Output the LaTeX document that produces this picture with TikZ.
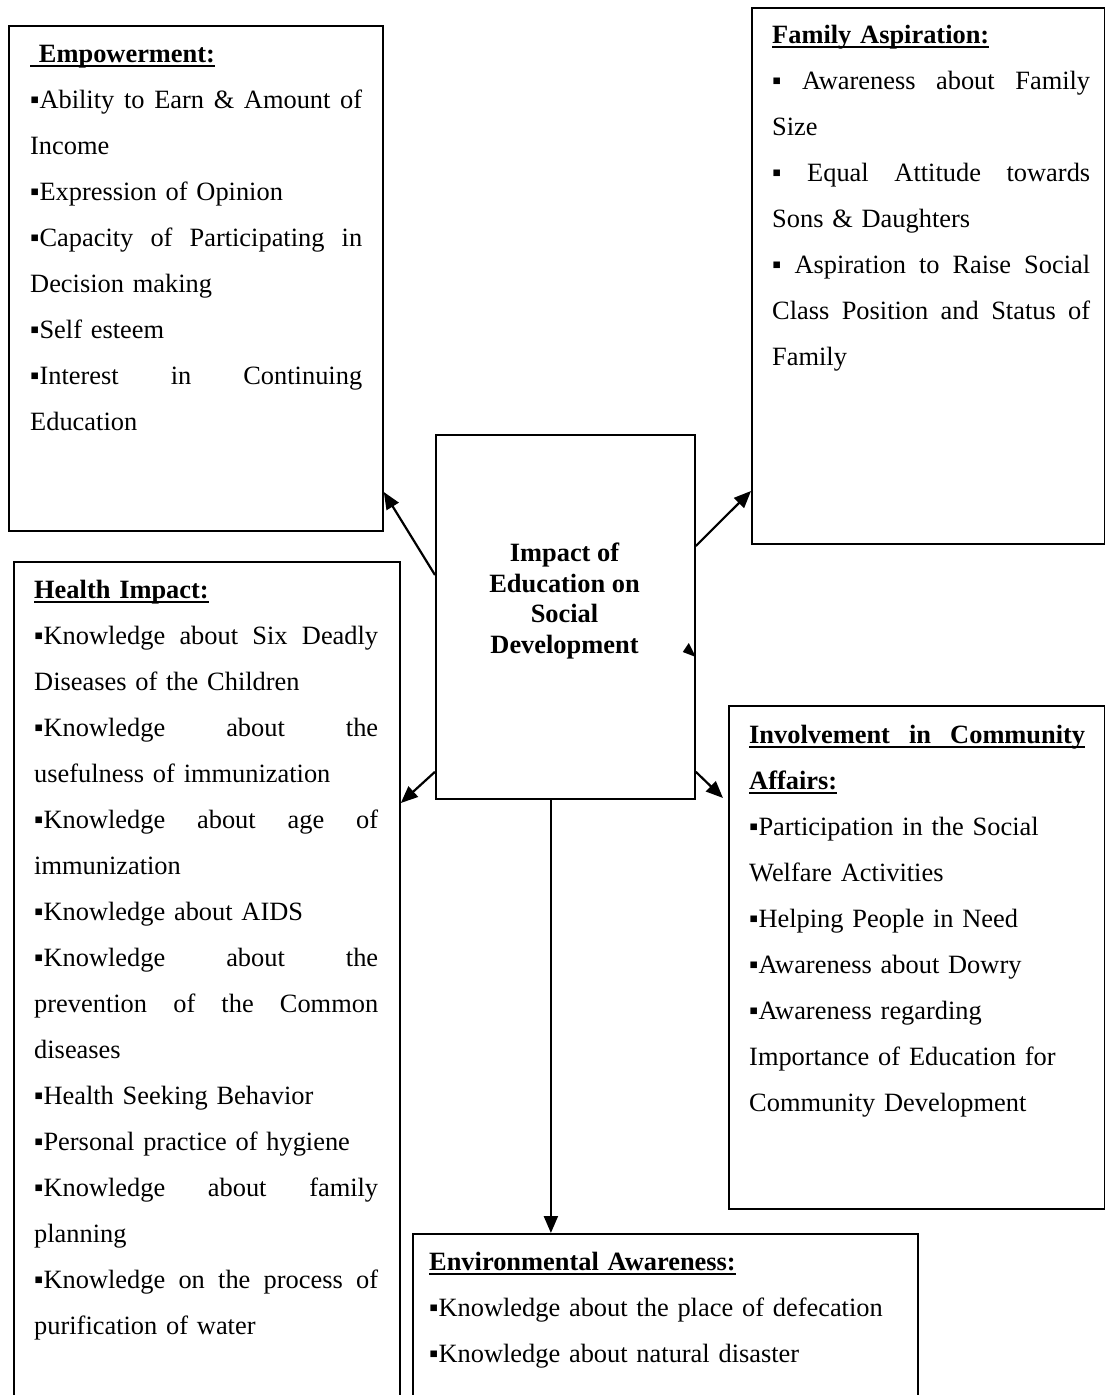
\documentclass[tikz,border=0pt]{standalone}
\usepackage{fontspec}
\setmainfont{Liberation Serif}
\usetikzlibrary{arrows.meta}

\newcommand{\hdr}[1]{\textbf{\setbox0\hbox{#1}\rlap{\rule[-5pt]{\wd0}{1.8pt}}\box0}}
\newcommand{\jl}[1]{\leavevmode\hbox to \hsize{\spaceskip=0.25em plus 1fil\relax #1}}

\begin{document}
\begin{tikzpicture}[x=1pt, y=-1pt,
        box/.style={draw, line width=1.8pt, inner sep=0pt, anchor=north west},
        txt/.style={inner sep=0pt, anchor=base west, align=left, font=\fontsize{26.4}{46}\selectfont},
        link/.style={line width=2.2pt, -{Triangle[length=17pt, width=14pt]}}]

        \useasboundingbox (0, 0) rectangle (1105, 1395);

        \draw (8, 25) node[box, minimum width=374pt, minimum height=505pt] (emp) {};
        \draw (751, 7) node[box, minimum width=353pt, minimum height=536pt] (fam) {};
        \draw (435, 434) node[box, minimum width=259pt, minimum height=364pt] (imp) {};
        \draw (13, 561) node[box, minimum width=386pt, minimum height=845pt] (hlt) {};
        \draw (728, 705) node[box, minimum width=376pt, minimum height=503pt] (inv) {};
        \draw (412, 1233) node[box, minimum width=505pt, minimum height=175pt] (env) {};

        \node[txt, text width=332pt] (emp-t) at (30, 62) {\hdr{\ Empowerment:}\\
            \jl{▪Ability to Earn \& Amount of}\\ Income\\ ▪Expression of Opinion\\
            \jl{▪Capacity of Participating in}\\ Decision making\\ ▪Self esteem\\
            \jl{▪Interest in Continuing}\\ Education};
        \node[txt, text width=318pt] (fam-t) at (772, 43) {\hdr{Family Aspiration:}\\
            \jl{▪ Awareness about Family}\\ Size\\ \jl{▪ Equal Attitude towards}\\
            Sons \& Daughters\\ \jl{▪ Aspiration to Raise Social}\\
            \jl{Class Position and Status of}\\ Family};
        \node[inner sep=0pt, anchor=base, align=center, font=\bfseries\fontsize{26.4}{30.4}\selectfont]
            (imp-t) at (564.5, 653) {Impact of\\ Education on\\ Social\\ Development};
        \node[txt, text width=344pt] (hlt-t) at (34, 598) {\hdr{Health Impact:}\\
            \jl{▪Knowledge about Six Deadly}\\ Diseases of the Children\\
            \jl{▪Knowledge about the}\\ usefulness of immunization\\
            \jl{▪Knowledge about age of}\\ immunization\\ ▪Knowledge about AIDS\\
            \jl{▪Knowledge about the}\\ \jl{prevention of the Common}\\ diseases\\
            ▪Health Seeking Behavior\\ ▪Personal practice of hygiene\\
            \jl{▪Knowledge about family}\\ planning\\
            \jl{▪Knowledge on the process of}\\ purification of water};
        \node[txt, text width=336pt] (inv-t) at (749, 743) {\hdr{\jl{Involvement in Community}}\\
            \hdr{Affairs:}\\ ▪Participation in the Social\\ Welfare Activities\\
            ▪Helping People in Need\\ ▪Awareness about Dowry\\ ▪Awareness regarding\\
            Importance of Education for\\ Community Development};
        \node[txt, text width=480pt] (env-t) at (429, 1270) {\hdr{Environmental Awareness:}\\
            ▪Knowledge about the place of defecation\\ ▪Knowledge about natural disaster};

        \draw[link] ([yshift=-141pt]imp.north west) -- ([yshift=-467pt]emp.north east);
        \draw[link] ([yshift=-112pt]imp.north east) -- ([yshift=-484pt]fam.north west);
        \draw[link] ([yshift=28pt]imp.south west) -- ([yshift=-242pt]hlt.north east);
        \draw[link] ([yshift=28pt]imp.south east) -- ([xshift=-5pt, yshift=-93pt]inv.north west);
        \draw[link] ([xshift=-14.5pt]imp.south) -- ([xshift=-14.5pt]imp.south |- env.north);
        \fill ([xshift=-13pt, yshift=-218pt]imp.north east) -- ([xshift=-7pt, yshift=-209pt]imp.north east)
            -- ([yshift=-223pt]imp.north east) -- cycle;

\end{tikzpicture}
\end{document}
